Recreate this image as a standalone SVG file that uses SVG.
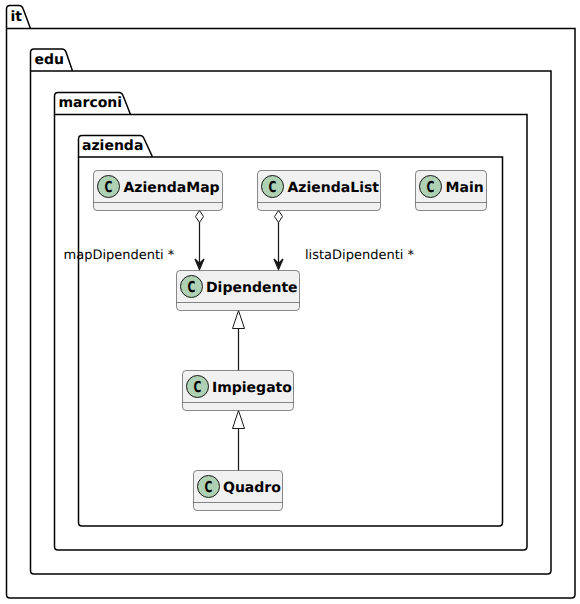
<svg xmlns="http://www.w3.org/2000/svg" width="580" height="604" viewBox="0 0 580 604">
<style>
text{text-rendering:geometricPrecision}
.pkg{fill:none;stroke:#000;stroke-width:1.500}
.pt{font:bold 14px "DejaVu Sans",sans-serif;fill:#000}
.box{fill:#f1f1f1;stroke:#181818;stroke-width:.5}
.sep{stroke:#181818;stroke-width:.5;fill:none}
.circ{fill:#add1b2;stroke:#181818;stroke-width:1}
.cl{font:bold 14px "DejaVu Sans",sans-serif;fill:#000}
.c{font:bold 15px "DejaVu Sans",sans-serif;fill:#000;text-anchor:middle}
.lbl{font:13px "DejaVu Sans",sans-serif;fill:#000}
.ln{fill:none;stroke:#181818;stroke-width:1.250}
.dia{fill:#fff;stroke:#181818;stroke-width:1}
.hd{fill:#181818;stroke:#181818;stroke-width:1.250}
</style>
<g id="pkg-it"><path class="pkg" d="M6.500 28.500V9Q6.500 5.500 10 5.500H19Q22 5.500 23 8.500L30.500 28.500H6.500ZM6.500 28.500V594.500Q6.500 598 10 598H571.500Q575 598 575 594.500V28.500H30.500"/><text class="pt" x="10.500" y="21">it</text></g>
<g id="pkg-edu"><path class="pkg" d="M30.500 71V52.500Q30.500 49 34 49H62Q65 49 66 52L72.500 71H30.500ZM30.500 71V570.500Q30.500 574 34 574H547.500Q551 574 551 570.500V71H72.500"/><text class="pt" x="34.500" y="64">edu</text></g>
<g id="pkg-marconi"><path class="pkg" d="M54.500 114.500V96Q54.500 92.500 58 92.500H119Q122 92.500 123 95.500L130.500 114.500H54.500ZM54.500 114.500V546.500Q54.500 550 58 550H523.500Q527 550 527 546.500V114.500H130.500"/><text class="pt" x="58.500" y="107">marconi</text></g>
<g id="pkg-azienda"><path class="pkg" d="M78.500 157V139Q78.500 135.500 82 135.500H140Q143 135.500 144 138.500L152.500 157H78.500ZM78.500 157V522.500Q78.500 526 82 526H499Q502.500 526 502.500 522.500V157H152.500"/><text class="pt" x="82" y="150">azienda</text></g>
<g id="connectors">
<path class="ln" d="M199.500 222V269"/><path class="dia" d="M199.500 210.500L203.500 216.500L199.500 222.500L195.500 216.500Z"/><path class="hd" d="M199.500 269.500L195 259L199.500 263.500L204 259Z"/>
<path class="ln" d="M278.500 222V269"/><path class="dia" d="M278.500 210.500L282.500 216.500L278.500 222.500L274.500 216.500Z"/><path class="hd" d="M278.500 269.500L274 259L278.500 263.500L283 259Z"/>
<path class="ln" d="M238.500 328V370.500"/><path class="dia" d="M238.500 310.500L244.500 328.500H232.500Z"/>
<path class="ln" d="M238.500 428V470.500"/><path class="dia" d="M238.500 410.500L244.500 428.500H232.500Z"/>
<text class="lbl" x="63.500" y="259">mapDipendenti *</text>
<text class="lbl" x="305" y="259">listaDipendenti *</text>
</g>
<g id="AziendaMap"><rect class="box" x="93.500" y="170.500" width="129" height="40" rx="3.500"/><path class="sep" d="M93.500 202.500H222.500"/><circle class="circ" cx="108.500" cy="186.500" r="11"/><text class="c" transform="translate(108.500 192) scale(.72 1)">C</text><text class="cl" x="123.500" y="191.500">AziendaMap</text></g>
<g id="AziendaList"><rect class="box" x="257.500" y="170.500" width="123" height="40" rx="3.500"/><path class="sep" d="M257.500 202.500H380.500"/><circle class="circ" cx="272.500" cy="186.500" r="11"/><text class="c" transform="translate(272.500 192) scale(.72 1)">C</text><text class="cl" x="287.500" y="191.500">AziendaList</text></g>
<g id="Main"><rect class="box" x="415.500" y="170.500" width="71" height="40" rx="3.500"/><path class="sep" d="M415.500 202.500H486.500"/><circle class="circ" cx="430.500" cy="186.500" r="11"/><text class="c" transform="translate(430.500 192) scale(.72 1)">C</text><text class="cl" x="445.500" y="191.500">Main</text></g>
<g id="Dipendente"><rect class="box" x="176.500" y="270.500" width="123" height="40" rx="3.500"/><path class="sep" d="M176.500 302.500H299.500"/><circle class="circ" cx="191.500" cy="286.500" r="11"/><text class="c" transform="translate(191.500 292) scale(.72 1)">C</text><text class="cl" x="206" y="291.500">Dipendente</text></g>
<g id="Impiegato"><rect class="box" x="182.500" y="370.500" width="111" height="40" rx="3.500"/><path class="sep" d="M182.500 402.500H293.500"/><circle class="circ" cx="197.500" cy="386.500" r="11"/><text class="c" transform="translate(197.500 392) scale(.72 1)">C</text><text class="cl" x="212" y="391.500">Impiegato</text></g>
<g id="Quadro"><rect class="box" x="193.500" y="470.500" width="89" height="40" rx="3.500"/><path class="sep" d="M193.500 502.500H282.500"/><circle class="circ" cx="208.500" cy="486.500" r="11"/><text class="c" transform="translate(208.500 492) scale(.72 1)">C</text><text class="cl" x="223" y="491.500">Quadro</text></g>
</svg>
